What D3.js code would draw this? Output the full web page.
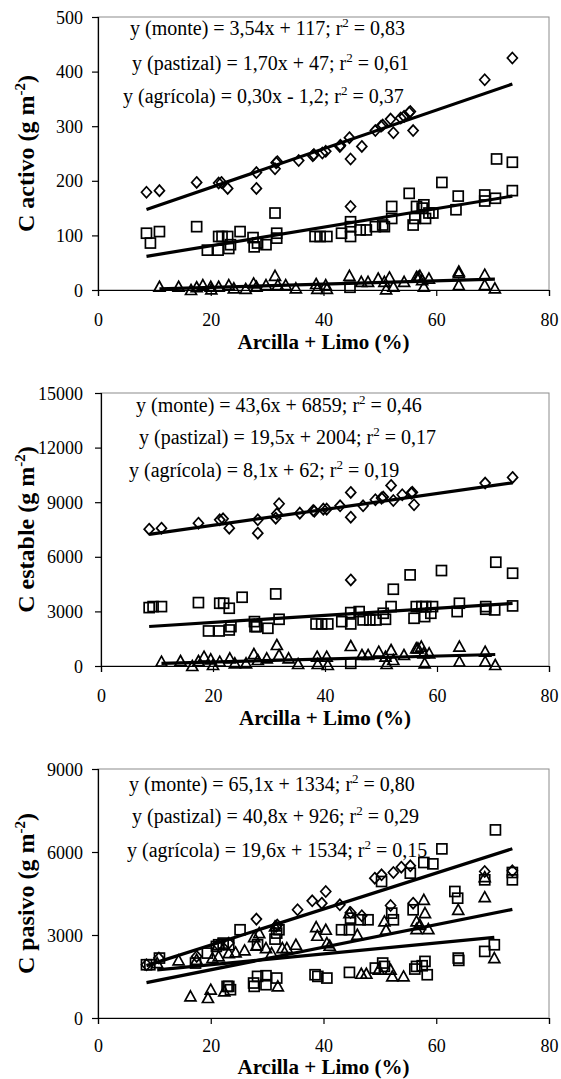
<!DOCTYPE html>
<html><head><meta charset="utf-8">
<script src="https://cdn.jsdelivr.net/npm/d3@7"></script>
<style>body{margin:0;background:#fff}svg{display:block}</style>
</head><body>
<svg id="c" width="561" height="1079"></svg>
<script>
const xTicks = [0, 20, 40, 60, 80];
const activoTicks = [0, 100, 200, 300, 400, 500];
const estableTicks = [0, 3000, 6000, 9000, 12000, 15000];
const pasivoTicks = [0, 3000, 6000, 9000];
const seriesNames = ["monte", "pastizal", "agrícola"];
const xTitle = "Arcilla + Limo (%)";

// C activo
const activoMonte = [[8.6,179],[10.9,182],[17.5,197],[21.4,196],[21.9,197],[23.0,186],[28.1,215],[28.1,186],[31.4,222],[31.6,233],[31.8,235],[35.6,237],[38.1,246],[38.3,248],[39.8,251],[40.4,254],[42.9,263],[43.0,265],[44.6,279],[44.8,240],[44.8,153],[46.8,263],[49.2,292],[50.2,300],[50.5,302],[51.9,313],[52.4,288],[53.7,315],[54.3,318],[55.2,325],[55.4,327],[55.9,292],[68.6,385],[73.5,425]];
const activoPastizal = [[8.6,104],[9.3,86],[10.9,107],[17.5,116],[19.4,73],[21.3,73],[21.4,98],[22.0,98],[23.0,98],[23.2,76],[23.5,83],[25.2,107],[27.5,96],[27.7,79],[28.3,86],[29.8,83],[31.4,141],[31.7,104],[31.7,95],[38.5,98],[39.4,98],[40.6,98],[43.2,104],[44.8,125],[44.8,116],[44.8,98],[44.7,5],[46.5,110],[47.6,110],[49.2,116],[50.5,119],[50.8,116],[52.1,153],[52.1,131],[55.2,177],[55.9,119],[56.2,131],[56.5,153],[57.5,150],[57.8,156],[58.1,131],[58.7,141],[59.4,141],[61.0,197],[63.5,147],[63.9,172],[68.6,174],[68.6,163],[70.5,168],[70.7,240],[73.5,234],[73.5,182]];
const activoAgricola = [[10.9,6],[14.3,6],[16.5,0],[17.5,5],[18.6,9],[20.0,6],[20.1,1],[21.4,6],[23.2,9],[24.1,3],[26.2,2],[27.6,12],[28.1,6],[29.8,9],[31.4,26],[31.9,9],[33.3,9],[35.1,3],[38.7,11],[38.9,2],[40.4,9],[40.6,2],[44.6,26],[46.7,15],[47.9,15],[49.7,21],[50.8,15],[51.1,1],[51.7,23],[52.4,6],[54.3,15],[56.5,24],[56.8,24],[57.1,26],[57.5,18],[57.8,6],[58.7,21],[64.0,34],[64.0,31],[64.0,9],[68.6,28],[68.6,9],[70.4,3]];
const activoSlopes = [3.54, 1.70, 0.30];
const activoIntercepts = [117, 47, -1.2];
const activoEqText = ["3,54x + 117", "1,70x + 47", "0,30x - 1,2"];
const activoR2 = ["0,83", "0,61", "0,37"];

// C estable
const estableMonte = [[8.6,7519],[10.8,7574],[17.4,7849],[21.2,8032],[21.8,8087],[22.9,7574],[28.0,8032],[28.0,7299],[31.2,8124],[31.4,8362],[31.8,8912],[35.5,8399],[37.9,8546],[38.1,8500],[39.7,8619],[40.3,8619],[42.7,8802],[44.6,9536],[44.6,8179],[44.6,4731],[46.8,8802],[49.0,9132],[50.1,9224],[50.4,9280],[51.8,9921],[52.2,9096],[53.8,9408],[55.4,9499],[55.6,9540],[55.9,8857],[68.6,10049],[73.5,10361]];
const establePastizal = [[8.6,3209],[9.3,3264],[10.8,3264],[17.4,3484],[19.2,1925],[21.1,1925],[21.2,3448],[21.9,3448],[22.9,3173],[22.9,1980],[23.2,2164],[25.2,3778],[27.4,2439],[27.5,2164],[27.8,2164],[29.8,2072],[31.2,3961],[31.8,2567],[38.4,2311],[39.4,2311],[40.5,2311],[43.0,2439],[44.6,2934],[44.6,2311],[44.6,147],[46.1,2989],[46.8,2531],[48.0,2531],[49.1,2531],[50.4,2897],[50.8,2567],[51.8,3264],[52.2,4218],[55.2,5006],[55.9,2622],[56.3,3264],[57.3,3264],[57.8,2714],[58.0,3264],[58.9,2897],[59.2,3264],[60.8,5245],[63.6,2989],[64.0,3448],[68.7,3264],[68.7,3118],[70.3,3081],[70.5,5703],[73.5,5098],[73.5,3301]];
const estableAgricola = [[10.8,238],[14.2,275],[16.3,0],[17.4,275],[18.4,513],[19.6,367],[20.0,55],[21.2,238],[23.0,422],[23.9,147],[25.9,147],[27.3,660],[28.0,330],[29.6,422],[31.4,1155],[31.8,605],[33.5,422],[35.2,110],[38.6,513],[38.7,110],[40.3,513],[40.5,55],[44.6,1100],[46.6,605],[47.7,605],[49.6,789],[50.8,513],[51.0,110],[51.8,880],[52.2,330],[54.1,605],[56.3,972],[56.6,972],[57.2,1064],[57.6,697],[57.8,147],[58.6,697],[64.0,1064],[64.0,238],[68.6,789],[68.6,238],[70.4,55]];
const estableSlopes = [43.6, 19.5, 8.1];
const estableIntercepts = [6859, 2004, 62];
const estableEqText = ["43,6x + 6859", "19,5x + 2004", "8,1x + 62"];
const estableR2 = ["0,46", "0,17", "0,19"];

// C pasivo
const pasivoMonte = [[8.6,1925],[10.8,2166],[17.5,2226],[21.3,2647],[23.2,2707],[28.1,3574],[31.6,3309],[31.8,3360],[35.4,3911],[38.0,4236],[39.7,4151],[40.4,4573],[42.9,4091],[44.8,3815],[46.8,3694],[49.1,5054],[50.3,5174],[51.9,4067],[52.4,5259],[53.8,5451],[55.4,5499],[55.9,4151],[68.6,5295],[73.5,5319]];
const pasivoPastizal = [[8.6,1925],[9.2,1925],[10.9,2166],[17.3,1986],[19.4,2346],[21.0,2587],[21.4,2647],[22.2,2707],[23.2,2647],[22.9,1143],[23.2,1143],[23.5,1023],[25.2,3189],[27.6,1264],[27.7,1143],[28.3,1504],[28.3,2647],[29.8,1528],[29.8,1203],[31.4,2852],[31.7,1444],[31.7,3069],[32.1,3189],[38.5,1564],[39.0,1504],[40.6,1444],[43.2,3189],[44.6,3189],[44.6,1649],[44.8,3610],[46.5,3550],[47.9,3550],[49.2,1805],[50.3,4934],[50.5,1986],[50.8,1865],[52.1,3791],[52.4,3550],[55.4,5235],[55.9,3911],[56.2,1769],[56.5,1865],[57.5,1889],[57.8,5620],[58.0,2046],[58.4,1564],[59.4,5571],[61.0,6113],[63.3,4573],[63.8,4331],[63.9,2166],[64.0,2082],[68.6,4994],[68.6,2407],[70.5,6799],[70.3,2647],[73.5,4994],[73.5,5259]];
const pasivoAgricola = [[10.5,1986],[14.3,2082],[16.4,782],[17.5,2106],[19.5,722],[20.0,1023],[20.3,2166],[21.4,2226],[22.4,963],[23.2,2346],[24.4,2371],[26.0,2443],[27.7,2924],[28.1,2611],[28.6,3069],[29.8,2527],[30.8,2346],[31.4,3309],[31.9,1143],[32.7,2527],[33.5,2527],[35.1,2647],[38.7,3285],[38.9,2972],[40.4,3189],[40.6,2707],[41.1,2611],[44.6,3791],[46.0,3008],[46.7,1600],[47.6,1600],[49.8,1745],[50.8,3490],[51.1,3189],[51.9,1745],[52.2,1504],[54.2,1504],[56.5,3490],[56.5,3213],[57.1,3369],[57.8,4272],[58.0,3791],[58.6,3213],[63.9,3911],[68.6,4368],[68.6,5090],[70.3,2166]];
const pasivoSlopes = [65.1, 40.8, 19.6];
const pasivoIntercepts = [1334, 926, 1534];
const pasivoEqText = ["65,1x + 1334", "40,8x + 926", "19,6x + 1534"];
const pasivoR2 = ["0,80", "0,29", "0,15"];

const svg = d3.select("#c");
const serif = "'Liberation Serif','Times New Roman',Times,serif";

const panels = [
  {title: "C activo", ticks: activoTicks, series: [activoMonte, activoPastizal, activoAgricola],
   slopes: activoSlopes, ints: activoIntercepts, eq: activoEqText, r2: activoR2,
   box: {l: 98, r: 549, t: 17, b: 290}, eqPos: [[130, 35], [132, 70], [123, 103]], tickBase: 36, titleBase: 59},
  {title: "C estable", ticks: estableTicks, series: [estableMonte, establePastizal, estableAgricola],
   slopes: estableSlopes, ints: estableIntercepts, eq: estableEqText, r2: estableR2,
   box: {l: 101, r: 549, t: 393, b: 666}, eqPos: [[136, 412], [139, 444], [129, 477]], tickBase: 36, titleBase: 59},
  {title: "C pasivo", ticks: pasivoTicks, series: [pasivoMonte, pasivoPastizal, pasivoAgricola],
   slopes: pasivoSlopes, ints: pasivoIntercepts, eq: pasivoEqText, r2: pasivoR2,
   box: {l: 98, r: 549, t: 769, b: 1018}, eqPos: [[129, 791], [132, 823], [127, 857]], tickBase: 34, titleBase: 56}
];

function marker(g, kind, x, y) {
  if (kind === 0) {
    g.append("path").attr("d", `M${x},${y-5.5}L${x+5},${y}L${x},${y+5.5}L${x-5},${y}Z`);
  } else if (kind === 1) {
    g.append("rect").attr("x", x-5).attr("y", y-5).attr("width", 10).attr("height", 10);
  } else {
    g.append("path").attr("d", `M${x},${y-5.5}L${x+5.5},${y+4.5}L${x-5.5},${y+4.5}Z`);
  }
}

panels.forEach(p => {
  const b = p.box;
  const x = d3.scaleLinear().domain([0, 80]).range([b.l, b.r]);
  const y = d3.scaleLinear().domain([0, d3.max(p.ticks)]).range([b.b, b.t]);
  const g = svg.append("g");

  g.append("rect").attr("x", b.l).attr("y", b.t).attr("width", b.r - b.l).attr("height", b.b - b.t)
    .attr("fill", "none").attr("stroke", "#8c8c8c").attr("stroke-width", 1);

  const ya = g.append("g").attr("transform", `translate(${b.l},0)`)
    .call(d3.axisLeft(y).tickValues(p.ticks).tickSize(6).tickPadding(9).tickFormat(d3.format("d")));
  const xa = g.append("g").attr("transform", `translate(0,${b.b})`)
    .call(d3.axisBottom(x).tickValues(xTicks).tickSize(6).tickPadding(0).tickFormat(d3.format("d")));
  [ya, xa].forEach(a => {
    a.select(".domain").attr("stroke", "#000").attr("stroke-width", 1.2);
    a.selectAll(".tick line").attr("stroke", "#000").attr("stroke-width", 1.2);
    a.selectAll("text").attr("font-family", serif).attr("font-size", 18).attr("fill", "#000");
  });
  ya.selectAll("text").attr("x", 83 - b.l).attr("dy", "0.34em");
  xa.selectAll("text").attr("y", p.tickBase).attr("dy", 0);

  const mg = g.append("g").attr("fill", "none").attr("stroke", "#000").attr("stroke-width", 1.7);
  p.series.forEach((s, k) => s.forEach(d => marker(mg, k, x(d[0]), y(d[1]))));

  p.series.forEach((s, k) => {
    const ext = d3.extent(s, d => d[0]);
    const pts = ext.map(v => [x(v), y(p.slopes[k] * v + p.ints[k])]);
    g.append("path").attr("d", d3.line()(pts)).attr("stroke", "#000").attr("stroke-width", 3.2).attr("fill", "none");
  });

  p.eq.forEach((e, k) => {
    const t = g.append("text").attr("x", p.eqPos[k][0]).attr("y", p.eqPos[k][1])
      .attr("font-family", serif).attr("font-size", 20).attr("fill", "#000");
    t.append("tspan").text(`y (${seriesNames[k]}) = ${e}; r`);
    t.append("tspan").attr("dy", -8).attr("font-size", 13).text("2");
    t.append("tspan").attr("dy", 8).text(` = ${p.r2[k]}`);
  });

  const yt = g.append("text").attr("transform", `translate(34,${(b.t + b.b) / 2}) rotate(-90)`)
    .attr("text-anchor", "middle").attr("font-family", serif).attr("font-weight", "bold")
    .attr("font-size", 24).attr("fill", "#000");
  yt.append("tspan").text(p.title + " (g m");
  yt.append("tspan").attr("dy", -9).attr("font-size", 15).text("-2");
  yt.append("tspan").attr("dy", 9).text(")");

  g.append("text").attr("x", (b.l + b.r) / 2).attr("y", b.b + p.titleBase)
    .attr("text-anchor", "middle").attr("font-family", serif).attr("font-weight", "bold")
    .attr("font-size", 21).attr("fill", "#000").text(xTitle);
});
</script>
</body></html>
